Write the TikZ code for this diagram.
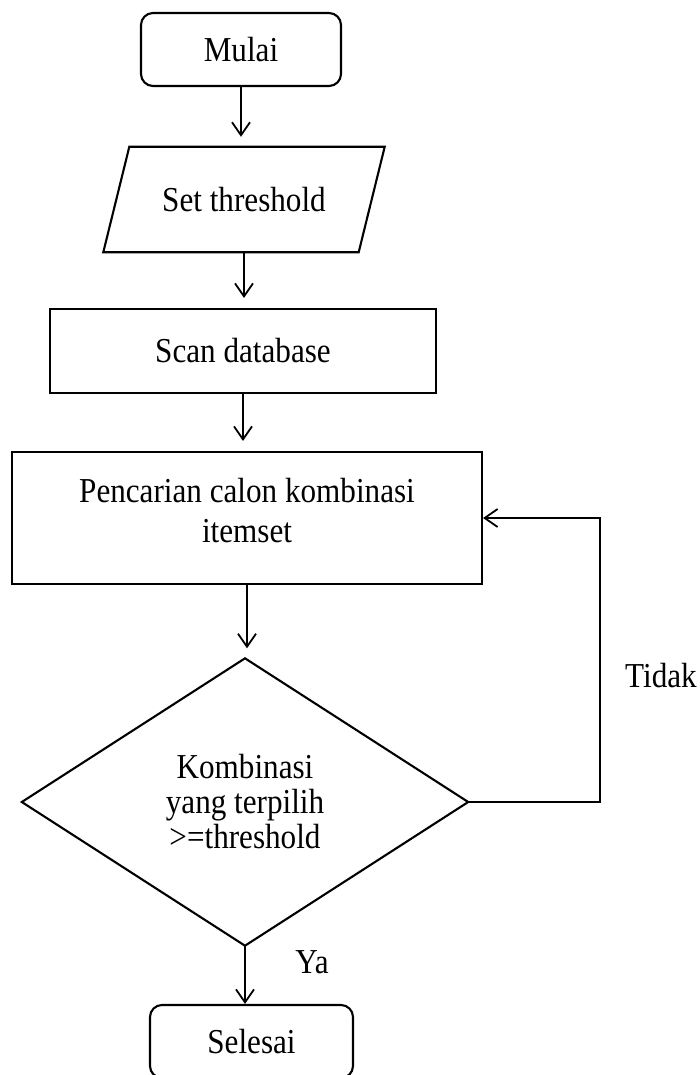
\documentclass[tikz,border=0pt]{standalone}
\usepackage{fontspec}
\setmainfont{Liberation Serif}[FakeStretch=0.89]
\usetikzlibrary{arrows.meta,calc}
\begin{document}
\begin{tikzpicture}[x=1pt,y=-1pt,
  every node/.style={font=\fontsize{35}{40}\selectfont, inner sep=0pt},
  lw/.style={line width=2.1pt},
  term/.style={draw, lw, rounded corners=12pt, minimum width=200pt, minimum height=73pt},
  proc/.style={draw, lw},
  arr/.style={line width=1.8pt, -{Straight Barb[length=13pt,width=18pt,line width=1.8pt]}},
  gap/.style={shorten >=10pt}]
\useasboundingbox (0,0) rectangle (699,1075);
\fill[white] (0,0) rectangle (699,1075);
\clip (0,0) rectangle (699,1075);

% nodes
\node[term] (mulai) at (241,49.5) {Mulai};
\node[minimum width=255pt, minimum height=105pt] (set) at (244,199.5) {Set threshold};
\draw[lw] ($(set.north west)+(13,0)$) -- ($(set.north east)+(13,0)$)
  -- ($(set.south east)+(-13,0)$) -- ($(set.south west)+(-13,0)$) -- cycle;
\node[proc, minimum width=386pt, minimum height=84pt] (scan) at (243,351) {Scan database};
\node[proc, minimum width=470pt, minimum height=132pt] (cari) at (247,518) {};
\node[align=center] (caritext) at (247,511) {Pencarian calon kombinasi\\itemset};
\node[minimum width=446pt, minimum height=287pt, align=center, font=\fontsize{35}{35}\selectfont] (dia) at (245,802)
  {Kombinasi\\yang terpilih\\>=threshold};
\draw[lw] (dia.north) -- (dia.east) -- (dia.south) -- (dia.west) -- cycle;
\node[term, minimum width=203pt] (selesai) at (251.5,1041.5) {Selesai};

% labels
\node (tidak) at (661,676) {Tidak};
\node (ya) at (312,962) {Ya};

% connectors
\draw[arr, gap] (mulai.south) -- (mulai.south |- set.north);
\draw[arr, gap] (set.south) -- (set.south |- scan.north);
\draw[arr, gap] (scan.south) -- (scan.south |- cari.north);
\draw[arr, gap] (cari.south) -- (cari.south |- dia.north);
\draw[arr] (dia.south) -- (dia.south |- selesai.north);
\draw[arr] (dia.east) -- ++(132,0) coordinate (loopc) |- (cari.east);
\end{tikzpicture}
\end{document}
